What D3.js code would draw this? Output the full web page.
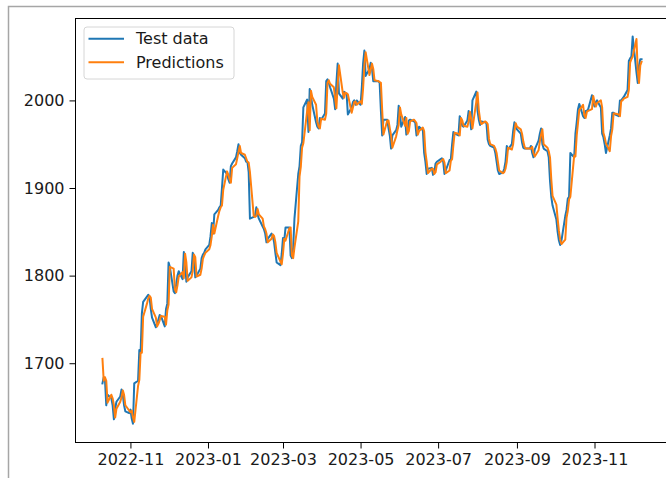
<!DOCTYPE html>
<html>
<head>
<meta charset="utf-8">
<script src="https://cdn.jsdelivr.net/npm/d3@7/dist/d3.min.js"></script>
<style>
  body { margin: 0; background: #fff; }
  svg { display: block; }
  text { font-family: "DejaVu Sans", sans-serif; fill: #1a1a1a; }
</style>
</head>
<body>
<div id="chart"></div>
<script>
// trading days (Mon-Fri) from first to last date
var firstDay = "2022-10-10";
var lastDay = "2023-12-08";

// test data, one row per week
var testData = [
  1677, 1684, 1681, 1652, 1664,
  1660, 1652, 1636, 1648, 1656,
  1662, 1670, 1664, 1652, 1645,
  1643, 1647, 1637, 1631, 1677,
  1680, 1715, 1712, 1757, 1770,
  1776, 1778, 1776, 1762, 1752,
  1741, 1745, 1750, 1755, 1754,
  1742, 1762, 1768, 1815, 1810,
  1782, 1780, 1790, 1800, 1805,
  1796, 1827, 1815, 1793, 1798,
  1805, 1826, 1822, 1798, 1800,
  1808, 1820, 1824, 1826, 1830,
  1835, 1845, 1860, 1848, 1870,
  1875, 1878, 1880, 1900, 1921,
  1916, 1910, 1906, 1925, 1928,
  1935, 1942, 1950, 1940, 1938,
  1934, 1930, 1930, 1918, 1865,
  1867, 1868, 1878, 1870, 1865,
  1856, 1853, 1848, 1838, 1842,
  1848, 1845, 1838, 1826, 1815,
  1812, 1825, 1843, 1840, 1855,
  1855, 1823, 1820, 1832, 1865,
  1916, 1925, 1948, 1952, 1992,
  2001, 1964, 2013, 2005, 1995,
  1975, 1970, 1968, 1980, 1978,
  1985, 2022, 2024, 2020, 2015,
  2002, 1990, 2020, 2042, 2008,
  2002, 2010, 2008, 2008, 1984,
  1992, 1998, 2000, 1995, 2000,
  1995, 2015, 2042, 2057, 2028,
  2036, 2043, 2036, 2022, 2022,
  2022, 2020, 1988, 1960, 1978,
  1978, 1968, 1960, 1945, 1960,
  1966, 1972, 1994, 1985, 1970,
  1981, 1961, 1965, 1977, 1978,
  1976, 1975, 1960, 1965, 1970,
  1966, 1940, 1930, 1916, 1922,
  1923, 1915, 1918, 1928, 1930,
  1933, 1934, 1930, 1916, 1920,
  1932, 1933, 1950, 1964, 1962,
  1960, 1982, 1978, 1971, 1970,
  1977, 1988, 1980, 1967, 2000,
  2010, 1988, 1978, 1972, 1976,
  1975, 1974, 1955, 1950, 1948,
  1946, 1940, 1930, 1920, 1916,
  1918, 1922, 1930, 1948, 1944,
  1950, 1965, 1975, 1970, 1967,
  1962, 1952, 1946, 1945, 1945,
  1945, 1948, 1940, 1935, 1944,
  1954, 1962, 1968, 1950, 1945,
  1942, 1935, 1908, 1890, 1880,
  1864, 1850, 1840, 1835, 1840,
  1868, 1875, 1888, 1890, 1940,
  1935, 1962, 1975, 1990, 1996,
  1982, 1980, 1988, 1988, 1990,
  2006, 1998, 1993, 1998, 2000,
  1992, 1962, 1958, 1950, 1940,
  1960, 1968, 1986, 1986, 1984,
  1982, 2000, 2000, 2002, 2004,
  2012, 2045, 2048, 2050, 2073,
  2032, 2020, 2040, 2047, 2047
];

var predictions = [
  1705, 1680, 1684, 1680, 1655,
  1664, 1660, 1652, 1638, 1648,
  1656, 1661, 1669, 1664, 1652,
  1646, 1644, 1646, 1638, 1633,
  1674, 1681, 1712, 1712, 1753,
  1768, 1774, 1777, 1775, 1762,
  1752, 1742, 1745, 1749, 1754,
  1753, 1744, 1760, 1767, 1810,
  1808, 1784, 1781, 1789, 1799,
  1804, 1797, 1825, 1815, 1794,
  1798, 1805, 1824, 1821, 1799,
  1801, 1808, 1819, 1823, 1826,
  1830, 1835, 1845, 1858, 1848,
  1868, 1874, 1878, 1880, 1898,
  1919, 1915, 1910, 1906, 1923,
  1927, 1934, 1941, 1948, 1940,
  1938, 1934, 1930, 1929, 1918,
  1868, 1867, 1868, 1876, 1870,
  1865, 1856, 1853, 1848, 1838,
  1842, 1847, 1845, 1838, 1826,
  1816, 1813, 1825, 1842, 1840,
  1854, 1855, 1823, 1820, 1832,
  1862, 1913, 1924, 1946, 1951,
  1988, 1998, 1966, 2011, 2004,
  1995, 1976, 1970, 1968, 1979,
  1978, 1985, 2020, 2023, 2019,
  2015, 2003, 1991, 2018, 2040,
  2009, 2003, 2009, 2008, 2007,
  1986, 1992, 1998, 1999, 1995,
  1999, 1996, 2014, 2040, 2055,
  2029, 2035, 2042, 2036, 2023,
  2022, 2021, 2020, 1989, 1961,
  1977, 1977, 1968, 1960, 1946,
  1959, 1966, 1972, 1992, 1984,
  1971, 1980, 1962, 1965, 1976,
  1978, 1976, 1974, 1961, 1965,
  1969, 1965, 1941, 1930, 1917,
  1922, 1922, 1916, 1918, 1927,
  1930, 1932, 1933, 1929, 1917,
  1920, 1931, 1933, 1949, 1963,
  1962, 1960, 1980, 1977, 1971,
  1970, 1976, 1987, 1979, 1968,
  1998, 2009, 1989, 1978, 1973,
  1976, 1975, 1973, 1956, 1950,
  1948, 1945, 1940, 1930, 1920,
  1917, 1918, 1922, 1930, 1946,
  1944, 1950, 1964, 1974, 1970,
  1967, 1962, 1953, 1947, 1945,
  1945, 1945, 1947, 1940, 1936,
  1943, 1953, 1961, 1967, 1950,
  1946, 1942, 1935, 1910, 1891,
  1881, 1865, 1851, 1841, 1836,
  1841, 1866, 1874, 1887, 1890,
  1937, 1936, 1960, 1974, 1989,
  1995, 1983, 1980, 1987, 1988,
  1990, 2005, 1998, 1993, 1997,
  2000, 1992, 1963, 1958, 1951,
  1942, 1959, 1967, 1985, 1985,
  1984, 1982, 1999, 2000, 2002,
  2004, 2012, 2043, 2047, 2050,
  2070, 2034, 2020, 2040, 2044
];

var seriesNames = ["Test data", "Predictions"];
var seriesColors = ["#1f77b4", "#ff7f0e"];
var xTickLabels = ["2022-11", "2023-01", "2023-03", "2023-05", "2023-07", "2023-09", "2023-11"];
var yTickValues = [1700, 1800, 1900, 2000];

var width = 666, height = 478;
var axLeft = 75.5, axTop = 18.5, axBottom = 442.5;

var parseDay = d3.utcParse("%Y-%m-%d");
var parseMonth = d3.utcParse("%Y-%m");
var days = d3.utcDay.range(parseDay(firstDay), d3.utcDay.offset(parseDay(lastDay), 1))
  .filter(d => d.getUTCDay() % 6 !== 0);

// matplotlib-like 5% margins on x
var t0 = days[0].getTime(), t1 = days[days.length - 1].getTime();
var pad = (t1 - t0) * 0.05;
var plotW = 539.1 * 1.1;

var x = d3.scaleUtc()
  .domain([new Date(t0 - pad), new Date(t1 + pad)])
  .range([axLeft, axLeft + plotW]);

var y = d3.scaleLinear()
  .domain([1609.5, 2093.5])
  .range([axBottom, axTop]);

var svg = d3.select("#chart").append("svg")
  .attr("width", width)
  .attr("height", height);

// outer frame of the screenshot
svg.append("path")
  .attr("d", "M8.5," + height + "V6.5H" + width)
  .attr("fill", "none")
  .attr("stroke", "#a6a6a6")
  .attr("stroke-width", 1.5);

var plot = svg.append("g");

plot.append("clipPath").attr("id", "clip")
  .append("rect")
  .attr("x", axLeft).attr("y", axTop)
  .attr("width", plotW).attr("height", axBottom - axTop);

var line = d3.line()
  .x(d => x(d[0]))
  .y(d => y(d[1]));

[testData, predictions].forEach(function(vals, i) {
  plot.append("path")
    .datum(days.map((d, j) => [d, vals[j]]))
    .attr("clip-path", "url(#clip)")
    .attr("fill", "none")
    .attr("stroke", seriesColors[i])
    .attr("stroke-width", 2)
    .attr("stroke-linejoin", "round")
    .attr("stroke-linecap", "square")
    .attr("d", line);
});

// axes
var xAxis = d3.axisBottom(x)
  .tickValues(xTickLabels.map(parseMonth))
  .tickFormat(d3.utcFormat("%Y-%m"))
  .tickSize(6)
  .tickPadding(5);

var yAxis = d3.axisLeft(y)
  .tickValues(yTickValues)
  .tickFormat(d3.format("d"))
  .tickSize(6)
  .tickPadding(5);

var gx = svg.append("g")
  .attr("transform", "translate(0," + axBottom + ")")
  .call(xAxis);
var gy = svg.append("g")
  .attr("transform", "translate(" + axLeft + ",0)")
  .call(yAxis);

[gx, gy].forEach(function(g) {
  g.select(".domain").remove();
  g.selectAll(".tick line").attr("stroke", "#000").attr("stroke-width", 1);
  g.selectAll(".tick text")
    .attr("fill", "#1a1a1a")
    .style("font-size", "16px")
    .style("font-family", "DejaVu Sans, sans-serif");
});

// spines
svg.append("rect")
  .attr("x", axLeft).attr("y", axTop)
  .attr("width", plotW).attr("height", axBottom - axTop)
  .attr("fill", "none")
  .attr("stroke", "#000")
  .attr("stroke-width", 1);

// legend
var legend = svg.append("g").attr("transform", "translate(84,27)");
legend.append("rect")
  .attr("width", 150).attr("height", 52)
  .attr("rx", 3)
  .attr("fill", "#fff").attr("fill-opacity", 0.8)
  .attr("stroke", "#d6d6d6");

seriesNames.forEach(function(name, i) {
  var row = legend.append("g").attr("transform", "translate(0," + (11.7 + i * 23.6) + ")");
  row.append("line")
    .attr("x1", 4.5).attr("x2", 40)
    .attr("stroke", seriesColors[i])
    .attr("stroke-width", 2);
  row.append("text")
    .attr("x", 52)
    .attr("dy", "0.36em")
    .style("font-size", "16px")
    .text(name);
});
</script>
</body>
</html>
